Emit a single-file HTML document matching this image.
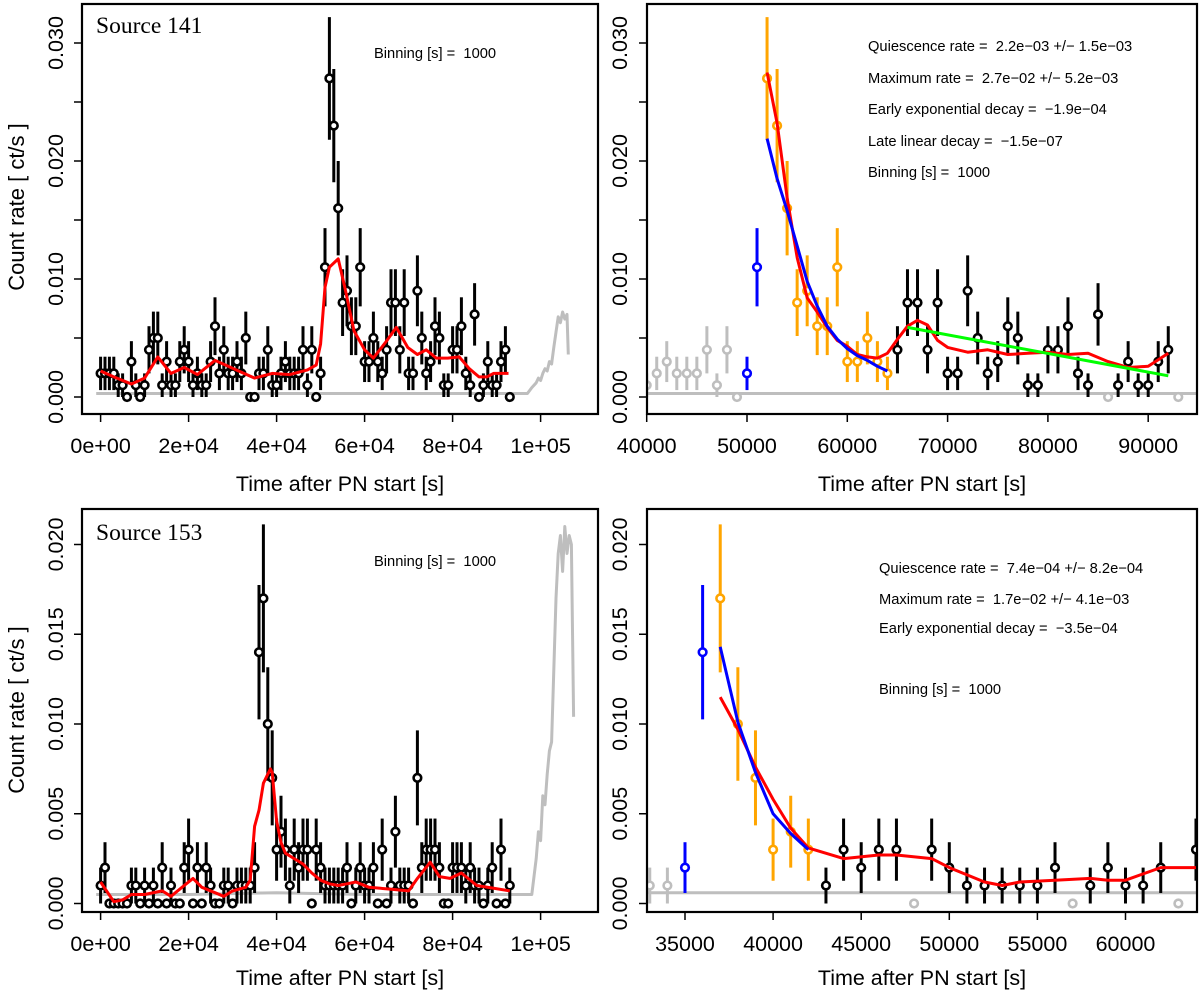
<!DOCTYPE html>
<html><head><meta charset="utf-8"><style>
html,body{margin:0;padding:0;background:#fff;}
svg{display:block;font-family:"Liberation Sans",Arial,sans-serif;}
text{white-space:pre;}
</style></head><body>
<svg id="fig" width="1200" height="992" viewBox="0 0 1200 992" xmlns="http://www.w3.org/2000/svg">
<defs>
<clipPath id="c1"><rect x="82" y="4" width="516" height="410"/></clipPath>
<clipPath id="c2"><rect x="647" y="4" width="550" height="410"/></clipPath>
<clipPath id="c3"><rect x="82" y="509" width="516" height="403"/></clipPath>
<clipPath id="c4"><rect x="647" y="509" width="550" height="403"/></clipPath>
</defs>
</svg>
<script>
// ---- data (time in ks, counts per 1000 s bin) ----
const counts141 = [2,2,2,2,1,1,0,3,1,0,1,4,5,5,1,3,1,1,3,4,3,1,2,1,1,3,6,2,4,2,2,3,2,5,0,0,2,2,4,1,1,2,3,2,2,2,4,1,4,0,2,11,27,23,16,8,9,6,6,11,3,3,5,3,2,4,8,8,4,8,2,2,9,5,2,3,6,5,1,1,4,4,6,2,1,7,0,1,3,1,1,3,4,0];
const counts153 = [1,2,0,0,0,0,0,1,1,0,1,0,1,0,2,0,1,0,0,2,3,0,2,0,2,1,0,0,1,1,0,1,1,1,1,2,14,17,10,7,3,4,3,1,3,2,3,3,0,3,2,1,1,1,1,1,2,0,1,2,1,1,2,0,3,0,1,4,1,1,1,0,7,2,3,3,3,2,0,0,2,2,2,1,2,1,1,0,1,2,0,3,0,1];
const red1T = [0,3,7,10,13,16,19,22,26,29,32,35,39,43,47,49,50,51,52,54,55.5,57.6,60,62,64.9,67.2,69.8,72,74,76.3,78.9,81.5,83.8,86,87.8,89.3,92.7];
const red1V = [0.0022,0.0017,0.0011,0.0016,0.0034,0.002,0.0025,0.0019,0.0031,0.0026,0.0021,0.0016,0.002,0.0019,0.0023,0.0027,0.0045,0.0093,0.011,0.0117,0.0093,0.0056,0.004,0.0033,0.0047,0.0059,0.0042,0.0036,0.004,0.0033,0.0033,0.0034,0.0024,0.0017,0.0017,0.002,0.002];
const red2T = [52,53,54,55,56,57,58,59,60,61,62,63,64,65,66,67,68,69,70,72,74,76,78,80,82,84,86,88,90,92];
const red2V = [0.0275,0.0232,0.0169,0.0118,0.0084,0.0072,0.0059,0.0048,0.0043,0.0036,0.0034,0.0033,0.0037,0.0049,0.006,0.0065,0.0061,0.0048,0.0042,0.0038,0.004,0.0036,0.0037,0.0038,0.0036,0.0037,0.003,0.0025,0.0026,0.0037];
const blue2T = [52,53,54,55,56,57,58,59,60,61,62,63,64];
const blue2V = [0.0219,0.0185,0.0158,0.0128,0.0098,0.0077,0.006,0.0049,0.0041,0.0035,0.0031,0.0026,0.0022];
const green2T = [66,92];
const green2V = [0.0059,0.0018];
const red3T = [0,3,5,7,10,14,16,19,21,23,26,28,30,33,34,35,36,37,38.6,39,40,41,42,44,46,48,50,52,54,56,58,61,65.8,70,72,74.9,77,79.4,82,85.5,93];
const red3V = [0.0012,0.0001,0.0002,0.0005,0.0005,0.0007,0.0004,0.001,0.0014,0.0009,0.0006,0.0004,0.0007,0.0009,0.0013,0.0043,0.0052,0.0067,0.0075,0.0073,0.0046,0.0034,0.0028,0.0025,0.0022,0.0017,0.0013,0.0011,0.001,0.0011,0.0012,0.0009,0.0008,0.0007,0.0014,0.0023,0.0015,0.0014,0.0017,0.001,0.0007];
const red4T = [37,38,39,40,41,42,44,46,47,49,50,52,53,54,56,58,59,60,62,64];
const red4V = [0.0115,0.0097,0.0076,0.0058,0.0042,0.0031,0.0025,0.0027,0.0027,0.0025,0.002,0.0012,0.001,0.0012,0.0013,0.0014,0.0013,0.0013,0.002,0.002];
const blue4T = [37,38,39,40,41,42];
const blue4V = [0.0143,0.0101,0.0073,0.005,0.0039,0.003];
const bg1T = [-1,20,40,60,80,97,98,99,99.5,100,100.5,101,101.5,102,102.5,103,103.5,104,104.5,105,105.5,106,106.3];
const bg1V = [0.0003,0.0003,0.0003,0.0003,0.0003,0.0003,0.0008,0.0012,0.0016,0.0014,0.002,0.0024,0.0022,0.003,0.0028,0.0042,0.0055,0.0068,0.0063,0.0072,0.0066,0.007,0.0036];
const bg3T = [-1,20,40,60,80,98,98.5,99,99.5,100,100.5,101,101.5,102,102.5,103,103.5,104,104.5,105,105.5,106,106.5,107,107.5];
const bg3V = [0.0005,0.0005,0.0006,0.0005,0.0005,0.0005,0.0015,0.0025,0.004,0.0035,0.006,0.0055,0.0072,0.0085,0.009,0.013,0.017,0.0195,0.0205,0.0185,0.021,0.0195,0.0205,0.02,0.0104];
const bg2V = 0.0003;
const bg4V = 0.0006;

const NS="http://www.w3.org/2000/svg";
const svg=document.getElementById('fig');
function el(tag,attrs,parent){const e=document.createElementNS(NS,tag);for(const k in attrs)e.setAttribute(k,attrs[k]);(parent||svg).appendChild(e);return e;}
function txt(s,attrs,parent){const e=el('text',attrs,parent);e.textContent=s;return e;}

const panels=[
 {id:'p1',box:[82,4,598,414],sx:t=>100.6+4.4*t,sy:v=>397-v*11800,clip:'c1',lo:39,to:77,
  xt:[0,20,40,60,80,100],xl:['0e+00','2e+04','4e+04','6e+04','8e+04','1e+05'],
  yt:[0,0.005,0.01,0.015,0.02,0.025,0.03],yl:['0.000','','0.010','','0.020','','0.030'],ylx:55},
 {id:'p2',box:[647,4,1197,414],sx:t=>646.7+10.03*(t-40),sy:v=>397-v*11800,clip:'c2',lo:39,to:77,
  xt:[40,50,60,70,80,90],xl:['40000','50000','60000','70000','80000','90000'],
  yt:[0,0.005,0.01,0.015,0.02,0.025,0.03],yl:['0.000','','0.010','','0.020','','0.030'],ylx:619},
 {id:'p3',box:[82,509,598,912],sx:t=>100.6+4.4*t,sy:v=>903.5-v*17950,clip:'c3',lo:39,to:73,
  xt:[0,20,40,60,80,100],xl:['0e+00','2e+04','4e+04','6e+04','8e+04','1e+05'],
  yt:[0,0.005,0.01,0.015,0.02],yl:['0.000','0.005','0.010','0.015','0.020'],ylx:55},
 {id:'p4',box:[647,509,1197,912],sx:t=>685+17.62*(t-35),sy:v=>903.5-v*17950,clip:'c4',lo:39,to:73,
  xt:[35,40,45,50,55,60],xl:['35000','40000','45000','50000','55000','60000'],
  yt:[0,0.005,0.01,0.015,0.02],yl:['0.000','0.005','0.010','0.015','0.020'],ylx:619}
];

function axes(p){
 const [x0,y0,x1,y1]=p.box;
 const g=el('g',{});
 
 
 p.xt.forEach((t,i)=>{const x=p.sx(t);
  const tk=el('line',{x1:x,x2:x,y1:y1,y2:y1+8,stroke:'#000','stroke-width':1.5},g);
  
  
  const lb=txt(p.xl[i],{x:x,y:y1+p.lo,'text-anchor':'middle','font-size':21.5},g);
  
  
 });
 p.yt.forEach((v,i)=>{const y=p.sy(v);
  const tk=el('line',{x1:x0,x2:x0-8,y1:y,y2:y,stroke:'#000','stroke-width':1.5},g);
  
  
  if(p.yl[i]){const lb=txt(p.yl[i],{x:0,y:0,'text-anchor':'middle','font-size':21.5,transform:`translate(${p.ylx+8},${y}) rotate(-90)`},g);
   
   }
 });
 const xt=txt('Time after PN start [s]',{x:(x0+x1)/2,y:y1+p.to,'text-anchor':'middle','font-size':21.5},g);
 
 
}
function frame(p){
 const [x0,y0,x1,y1]=p.box;
 const r=el('rect',{x:x0,y:y0,width:x1-x0,height:y1-y0,fill:'none',stroke:'#000','stroke-width':2.2});
 
 
}
function line(p,T,V,color,w,name,parent){
 const pts=T.map((t,i)=>p.sx(t).toFixed(1)+','+p.sy(V[i]).toFixed(1)).join(' ');
 const l=el('polyline',{points:pts,fill:'none',stroke:color,'stroke-width':w,'stroke-linejoin':'round'},parent);
 
 
}
function point(p,t,c,color,parent){
 const v=c/1000, e=Math.sqrt(c)/1000, x=p.sx(t);
 if(c>0){const b=el('line',{x1:x,x2:x,y1:p.sy(v-e),y2:p.sy(v+e),stroke:color,'stroke-width':3},parent);
  
  }
 const ci=el('circle',{cx:x,cy:p.sy(v),r:3.8,fill:'#fff',stroke:color,'stroke-width':2.6},parent);
 
 
}

// Panel 1
(function(){const p=panels[0];axes(p);
 const g=el('g',{'clip-path':'url(#c1)'});
 
 
 line(p,bg1T,bg1V,'#bebebe',3,'background-curve',g);
 counts141.forEach((c,t)=>point(p,t,c,'#000',g));
 line(p,red1T,red1V,'#ff0000',3,'smoothed-curve',g);
 frame(p);
})();
// Panel 2
(function(){const p=panels[1];axes(p);
 const g=el('g',{'clip-path':'url(#c2)'});
 
 
 line(p,[38,96],[bg2V,bg2V],'#bebebe',3,'background-curve',g);
 counts141.forEach((c,t)=>{let col='#bebebe';
  if(c>0){if(t>=50&&t<=51)col='#0000ff';else if(t>=52&&t<=64)col='#ffa500';else if(t>=65&&t<=92)col='#000';}
  point(p,t,c,col,g);});
 line(p,red2T,red2V,'#ff0000',3,'smoothed-curve',g);
 line(p,blue2T,blue2V,'#0000ff',3,'exponential-fit',g);
 line(p,green2T,green2V,'#00ff00',3,'linear-fit',g);
 frame(p);
})();
// Panel 3
(function(){const p=panels[2];axes(p);
 const g=el('g',{'clip-path':'url(#c3)'});
 
 
 line(p,bg3T,bg3V,'#bebebe',3,'background-curve',g);
 counts153.forEach((c,t)=>point(p,t,c,'#000',g));
 line(p,red3T,red3V,'#ff0000',3,'smoothed-curve',g);
 frame(p);
})();
// Panel 4
(function(){const p=panels[3];axes(p);
 const g=el('g',{'clip-path':'url(#c4)'});
 
 
 line(p,[30,66],[bg4V,bg4V],'#bebebe',3,'background-curve',g);
 counts153.forEach((c,t)=>{let col='#bebebe';
  if(c>0){if(t>=35&&t<=36)col='#0000ff';else if(t>=37&&t<=42)col='#ffa500';else if(t>=43)col='#000';}
  point(p,t,c,col,g);});
 line(p,red4T,red4V,'#ff0000',3,'smoothed-curve',g);
 line(p,blue4T,blue4V,'#0000ff',3,'exponential-fit',g);
 frame(p);
})();

// Y axis titles
[207,710].forEach(cy=>{const t=txt('Count rate [ ct/s ]',{x:0,y:0,'text-anchor':'middle','font-size':22,transform:`translate(24,${cy}) rotate(-90)`});
 
 });

// Annotations
function ann(s,x,y,name,size,fam){const t=txt(s,{x:x,y:y,'font-size':size||14.7,'font-family':fam||'"Liberation Sans",Arial,sans-serif'});
 
 }
ann('Source 141',96,33,'source-label',23.5,'"Liberation Serif",serif');
ann('Source 153',96,540,'source-label',23.5,'"Liberation Serif",serif');
ann('Binning [s] =  1000',374,58,'binning-label');
ann('Binning [s] =  1000',374,566,'binning-label');
ann('Quiescence rate =  2.2e\u221203 +/\u2212 1.5e\u221203',868,51,'quiescence-rate-label');
ann('Maximum rate =  2.7e\u221202 +/\u2212 5.2e\u221203',868,83,'maximum-rate-label');
ann('Early exponential decay =  \u22121.9e\u221204',868,114,'early-decay-label');
ann('Late linear decay =  \u22121.5e\u221207',868,146,'late-decay-label');
ann('Binning [s] =  1000',868,177,'binning-label');
ann('Quiescence rate =  7.4e\u221204 +/\u2212 8.2e\u221204',879,573,'quiescence-rate-label');
ann('Maximum rate =  1.7e\u221202 +/\u2212 4.1e\u221203',879,604,'maximum-rate-label');
ann('Early exponential decay =  \u22123.5e\u221204',879,633,'early-decay-label');
ann('Binning [s] =  1000',879,694,'binning-label');
</script>
</body></html>
